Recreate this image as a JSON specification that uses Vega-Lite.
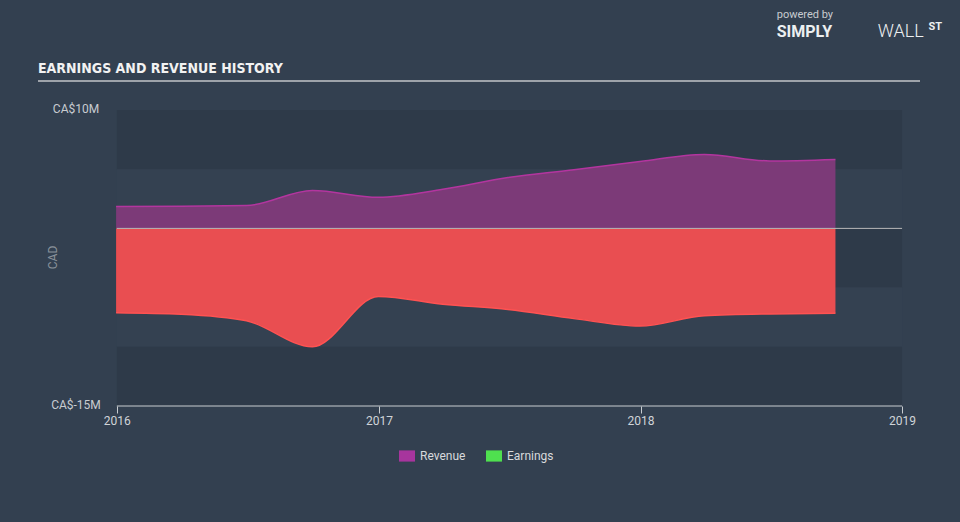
{
  "$schema": "https://vega.github.io/schema/vega-lite/v6.json",
  "width": 882,
  "height": 325,
  "autosize": {"type": "none"},
  "padding": {"left": 38, "top": 81, "right": 40, "bottom": 116},
  "background": "#334050",
  "config": {"view": {"stroke": null}, "font": "Roboto"},
  "title": {
    "text": "EARNINGS AND REVENUE HISTORY",
    "anchor": "start",
    "frame": "group",
    "font": "DejaVu Sans Condensed, Roboto Condensed, sans-serif",
    "fontSize": 14,
    "fontWeight": "bold",
    "color": "#f2f2f2",
    "offset": 6,
    "dy": 73
  },
  "datasets": {
    "series": [
      {"date": "2015-12-31", "series": "Revenue", "value": 1.85},
      {"date": "2016-03-31", "series": "Revenue", "value": 1.88},
      {"date": "2016-06-30", "series": "Revenue", "value": 1.93},
      {"date": "2016-09-30", "series": "Revenue", "value": 3.2},
      {"date": "2016-12-31", "series": "Revenue", "value": 2.63},
      {"date": "2017-03-31", "series": "Revenue", "value": 3.3},
      {"date": "2017-06-30", "series": "Revenue", "value": 4.3},
      {"date": "2017-09-30", "series": "Revenue", "value": 4.95},
      {"date": "2017-12-31", "series": "Revenue", "value": 5.65},
      {"date": "2018-03-31", "series": "Revenue", "value": 6.25},
      {"date": "2018-06-30", "series": "Revenue", "value": 5.7},
      {"date": "2018-09-30", "series": "Revenue", "value": 5.83},
      {"date": "2015-12-31", "series": "Earnings", "value": -7.12},
      {"date": "2016-03-31", "series": "Earnings", "value": -7.25},
      {"date": "2016-06-30", "series": "Earnings", "value": -7.8},
      {"date": "2016-09-30", "series": "Earnings", "value": -10.0},
      {"date": "2016-12-31", "series": "Earnings", "value": -5.75},
      {"date": "2017-03-31", "series": "Earnings", "value": -6.4},
      {"date": "2017-06-30", "series": "Earnings", "value": -6.85},
      {"date": "2017-09-30", "series": "Earnings", "value": -7.62},
      {"date": "2017-12-31", "series": "Earnings", "value": -8.25},
      {"date": "2018-03-31", "series": "Earnings", "value": -7.38},
      {"date": "2018-06-30", "series": "Earnings", "value": -7.22},
      {"date": "2018-09-30", "series": "Earnings", "value": -7.17}
    ],
    "bands": [
      {"start": "2016-01-01", "end": "2019-01-01", "lo": 5, "hi": 10, "shade": "dark"},
      {"start": "2016-01-01", "end": "2019-01-01", "lo": 0, "hi": 5, "shade": "light"},
      {"start": "2016-01-01", "end": "2019-01-01", "lo": -5, "hi": 0, "shade": "dark"},
      {"start": "2016-01-01", "end": "2019-01-01", "lo": -10, "hi": -5, "shade": "light"},
      {"start": "2016-01-01", "end": "2019-01-01", "lo": -15, "hi": -10, "shade": "dark"}
    ],
    "one": [{}]
  },
  "layer": [
    {
      "data": {"name": "bands"},
      "mark": {"type": "rect"},
      "encoding": {
        "x": {
          "field": "start",
          "type": "temporal",
          "scale": {
            "type": "utc",
            "domain": [
              {"year": 2015, "month": 9, "date": 13, "utc": true},
              {"year": 2019, "month": 1, "date": 26, "utc": true}
            ],
            "nice": false
          },
          "axis": {
            "values": [
              {"year": 2016, "month": 1, "date": 1, "utc": true},
              {"year": 2017, "month": 1, "date": 1, "utc": true},
              {"year": 2018, "month": 1, "date": 1, "utc": true},
              {"year": 2019, "month": 1, "date": 1, "utc": true}
            ],
            "format": "%Y",
            "domain": false,
            "grid": false,
            "tickColor": "#c8ccd0",
            "tickSize": 7,
            "labelColor": "#d0d4d8",
            "labelFontSize": 12,
            "labelPadding": 2,
            "labelFlush": false,
            "labelOverlap": false,
            "title": null
          }
        },
        "x2": {"field": "end"},
        "y": {
          "field": "lo",
          "type": "quantitative",
          "scale": {"domain": [-15, 12.45], "nice": false, "zero": false},
          "axis": {
            "values": [-15, 10],
            "labelExpr": "'CA$' + datum.value + 'M'",
            "domain": false,
            "ticks": false,
            "grid": false,
            "offset": -79,
            "labelAlign": "center",
            "labelPadding": 41.5,
            "labelOffset": -2,
            "labelColor": "#c8ccd0",
            "labelFontSize": 12,
            "title": "CAD",
            "titleColor": "#8a929b",
            "titleFontSize": 12,
            "titleFontWeight": "normal",
            "titleX": -65,
            "titleY": 176,
            "titleBaseline": "middle"
          }
        },
        "y2": {"field": "hi"},
        "fill": {
          "field": "shade",
          "type": "nominal",
          "scale": {"domain": ["dark", "light"], "range": ["#2e3a49", "#344151"]},
          "legend": null
        }
      }
    },
    {
      "data": {"name": "series"},
      "transform": [{"filter": "datum.series === 'Revenue'"}],
      "mark": {
        "type": "area",
        "interpolate": "monotone",
        "fill": "#7c3a78",
        "fillOpacity": 1,
        "line": {"stroke": "#b3359f", "strokeWidth": 1.5}
      },
      "encoding": {
        "x": {"field": "date", "type": "temporal"},
        "y": {"field": "value", "type": "quantitative"},
        "y2": {"datum": 0}
      }
    },
    {
      "data": {"name": "series"},
      "transform": [{"filter": "datum.series === 'Earnings'"}],
      "mark": {
        "type": "area",
        "interpolate": "monotone",
        "fill": "#e94e51",
        "fillOpacity": 1,
        "line": {"stroke": "#ff5252", "strokeWidth": 1.5}
      },
      "encoding": {
        "x": {"field": "date", "type": "temporal"},
        "y": {"field": "value", "type": "quantitative"},
        "y2": {"datum": 0}
      }
    },
    {
      "data": {"name": "one"},
      "mark": {"type": "rule", "color": "#b8b8b8", "strokeWidth": 1},
      "encoding": {
        "x": {"datum": {"year": 2016, "month": 1, "date": 1, "utc": true}, "type": "temporal"},
        "x2": {"datum": {"year": 2019, "month": 1, "date": 1, "utc": true}},
        "y": {"datum": 0, "type": "quantitative"}
      }
    },
    {
      "data": {"name": "one"},
      "mark": {"type": "rule", "color": "#c8ccd0", "strokeWidth": 1},
      "encoding": {
        "x": {"datum": {"year": 2016, "month": 1, "date": 1, "utc": true}, "type": "temporal"},
        "x2": {"datum": {"year": 2019, "month": 1, "date": 1, "utc": true}},
        "y": {"datum": -15, "type": "quantitative"}
      }
    },
    {
      "data": {"name": "one"},
      "mark": {"type": "rule", "color": "#9ea3aa", "strokeWidth": 2},
      "encoding": {
        "x": {"datum": {"year": 2015, "month": 9, "date": 13, "utc": true}, "type": "temporal"},
        "x2": {"datum": {"year": 2019, "month": 1, "date": 26, "utc": true}},
        "y": {"datum": 12.45, "type": "quantitative"}
      }
    },
    {
      "data": {"name": "series"},
      "mark": {"type": "square", "opacity": 0},
      "encoding": {
        "x": {"field": "date", "type": "temporal"},
        "y": {"field": "value", "type": "quantitative"},
        "color": {
          "field": "series",
          "type": "nominal",
          "scale": {"domain": ["Revenue", "Earnings"], "range": ["#a7359d", "#4fe04f"]},
          "legend": {
            "orient": "none",
            "legendX": 361,
            "legendY": 367,
            "direction": "horizontal",
            "title": null,
            "symbolType": "M-1,-0.7H1V0.7H-1Z",
            "symbolSize": 256,
            "symbolOpacity": 1,
            "symbolStrokeWidth": 0,
            "labelColor": "#d8dadc",
            "labelFontSize": 12,
            "labelOffset": 5,
            "columnPadding": 20,
            "padding": 0
          }
        }
      }
    },
    {
      "data": {"name": "one"},
      "mark": {"type": "text", "text": "powered by", "align": "left", "baseline": "middle", "fontSize": 11, "color": "#c8ccd0"},
      "encoding": {
        "x": {"datum": {"year": 2018, "month": 7, "date": 10, "utc": true}, "type": "temporal"},
        "y": {"datum": 18.0, "type": "quantitative"}
      }
    },
    {
      "data": {"name": "one"},
      "mark": {"type": "text", "text": "SIMPLY", "align": "left", "baseline": "middle", "fontSize": 16, "fontWeight": "bold", "color": "#eceff1"},
      "encoding": {
        "x": {"datum": {"year": 2018, "month": 7, "date": 10, "utc": true}, "type": "temporal"},
        "y": {"datum": 16.6, "type": "quantitative"}
      }
    },
    {
      "data": {"name": "one"},
      "mark": {"type": "text", "text": "WALL", "align": "left", "baseline": "middle", "fontSize": 18, "fontWeight": 300, "color": "#eceff1"},
      "encoding": {
        "x": {"datum": {"year": 2018, "month": 11, "date": 28, "utc": true}, "type": "temporal"},
        "y": {"datum": 16.6, "type": "quantitative"}
      }
    },
    {
      "data": {"name": "one"},
      "mark": {"type": "text", "text": "ST", "align": "left", "baseline": "middle", "fontSize": 11, "fontWeight": "bold", "color": "#eceff1"},
      "encoding": {
        "x": {"datum": {"year": 2019, "month": 2, "date": 7, "utc": true}, "type": "temporal"},
        "y": {"datum": 17.0, "type": "quantitative"}
      }
    }
  ]
}
